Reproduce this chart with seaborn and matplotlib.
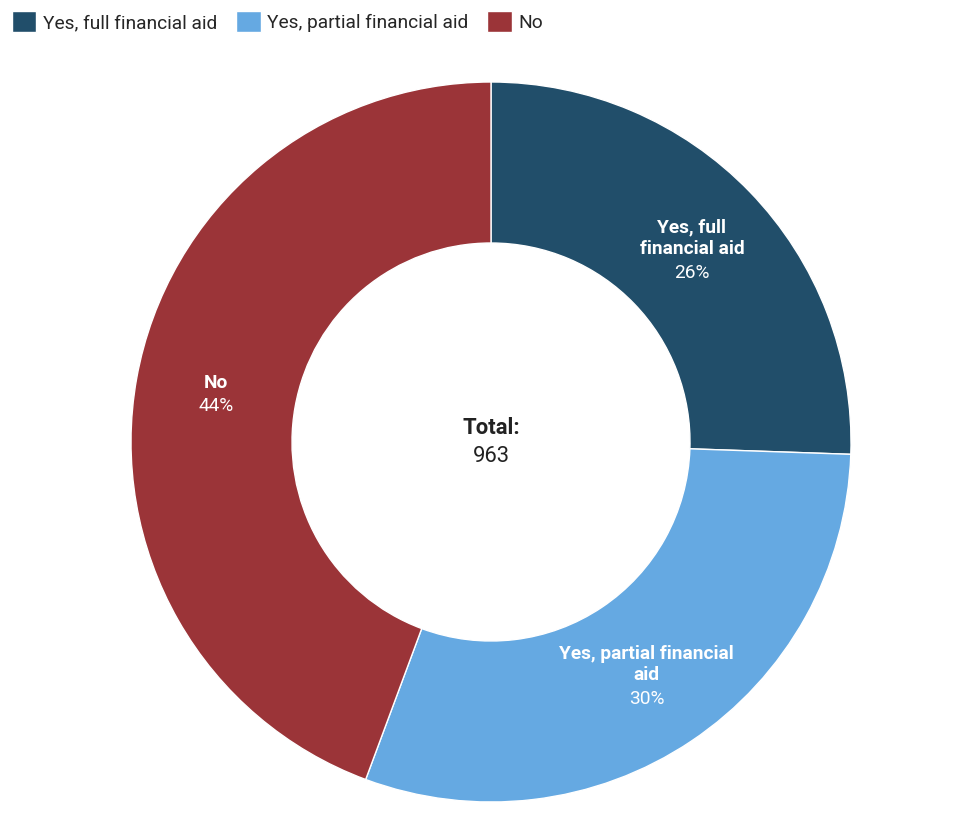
import numpy as np
import matplotlib
matplotlib.use('Agg')
import matplotlib.pyplot as plt
import seaborn as sns

# Data
categories = ['Yes, full financial aid', 'Yes, partial financial aid', 'No']
label_lines = ['Yes, full\nfinancial aid', 'Yes, partial financial\naid', 'No']
counts = [246, 290, 427]
colors = ['#214e6a', '#65a9e2', '#9b3438']
total = sum(counts)

sns.set_theme(style='white')
plt.rcParams['font.family'] = ['Roboto', 'DejaVu Sans']

fig = plt.figure(figsize=(9.68, 8.22), dpi=100)
ax = fig.add_axes([0, 0, 1, 1])

cx, cy = 491, 822 - 442
r_out, r_in = 360, 199
wedges, _ = ax.pie(counts, colors=colors, startangle=90, counterclock=False,
                   center=(cx, cy), radius=r_out, frame=True,
                   wedgeprops=dict(width=r_out - r_in, edgecolor='white', linewidth=1))
ax.set_xlim(0, 968)
ax.set_ylim(0, 822)
ax.set_aspect('equal')
ax.axis('off')

r_lab = (r_out + r_in) / 2
lh = 23
for w, lines, n in zip(wedges, label_lines, counts):
    ang = np.deg2rad((w.theta1 + w.theta2) / 2)
    x = cx + r_lab * np.cos(ang)
    y = cy + r_lab * np.sin(ang) - 2
    nlines = lines.count('\n') + 1
    top = y + nlines * lh / 2
    ax.text(x, top - (nlines - 1) * lh / 2, lines, ha='center', va='center',
            fontsize=13.8, fontweight='bold', color='white', linespacing=1.2)
    ax.text(x, top - nlines * lh, f'{n / total:.0%}', ha='center', va='center',
            fontsize=13.8, color='white')

ax.text(cx, 822 - 428, 'Total:', ha='center', va='center', fontsize=15.8,
        fontweight='bold', color='#222222')
ax.text(cx, 822 - 457, f'{total}', ha='center', va='center', fontsize=15.8,
        color='#222222')

ax.legend(wedges, categories, loc='upper left', bbox_to_anchor=(0.0, 1.0),
          ncol=3, frameon=False, fontsize=13.8, handlelength=1.3, handleheight=1.3,
          handletextpad=0.35, columnspacing=0.95, borderaxespad=0.2)

fig.savefig('out.png', dpi=100)
